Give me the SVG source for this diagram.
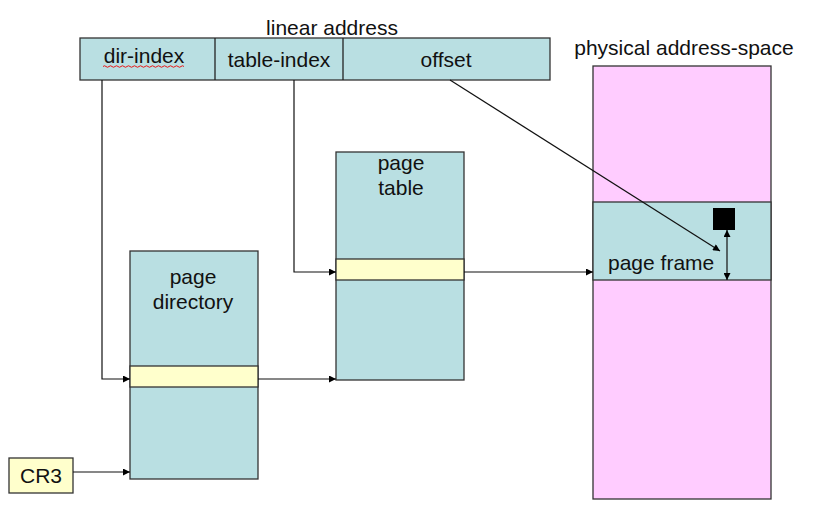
<svg xmlns="http://www.w3.org/2000/svg" width="818" height="510" viewBox="0 0 818 510">
<defs>
<style>
.t{font-family:"Liberation Sans",Arial,sans-serif;font-size:21px;fill:#111;}
.c{text-anchor:middle;}
.box{fill:#b9dfe2;stroke:#333;stroke-width:1.3;}
.band{fill:#ffffcc;stroke:#333;stroke-width:1.3;}
.phys{fill:#ffccff;stroke:#333;stroke-width:1.3;}
.ln{fill:none;stroke:#111;stroke-width:1.2;}
</style>
<marker id="ah" viewBox="0 0 10 10" refX="10" refY="5" markerWidth="9" markerHeight="7" markerUnits="userSpaceOnUse" orient="auto-start-reverse">
<path d="M0,0 L10,5 L0,10 z" fill="#000"/>
</marker>
</defs>
<rect width="818" height="510" fill="#fff"/>

<g id="linear-address">
<text class="t c" x="332" y="35">linear address</text>
<rect class="box" x="80" y="38" width="470" height="42"/>
<line x1="215" y1="38" x2="215" y2="80" stroke="#222" stroke-width="1.3"/>
<line x1="343" y1="38" x2="343" y2="80" stroke="#222" stroke-width="1.3"/>
<text class="t c" x="144" y="63">dir-index</text>
<path d="M103,66.5 q1.5,-1.5 3,0 t3,0 t3,0 t3,0 t3,0 t3,0 t3,0 t3,0 t3,0 t3,0 t3,0 t3,0 t3,0 t3,0 t3,0 t3,0 t3,0 t3,0 t3,0 t3,0 t3,0 t3,0 t3,0 t3,0 t3,0 t3,0 t3,0" fill="none" stroke="#e00" stroke-width="0.9"/>
<text class="t c" x="279" y="67">table-index</text>
<text class="t c" x="446" y="67">offset</text>
</g>

<g id="physical-address-space">
<text class="t c" x="684" y="55">physical address-space</text>
<rect class="phys" x="593" y="66" width="178" height="433"/>
<rect class="box" x="593" y="202" width="178" height="78"/>
<text class="t" x="608" y="270">page frame</text>
<rect x="713" y="208" width="22" height="22" fill="#000"/>
</g>

<g id="page-table">
<rect class="box" x="336" y="152" width="128" height="228"/>
<rect class="band" x="336" y="259" width="128" height="21"/>
<text class="t c" x="401" y="170">page</text>
<text class="t c" x="401" y="195">table</text>
</g>

<g id="page-directory">
<rect class="box" x="130" y="251" width="128" height="228"/>
<rect class="band" x="130" y="366" width="128" height="21"/>
<text class="t c" x="193" y="284">page</text>
<text class="t c" x="193" y="309">directory</text>
</g>

<g id="cr3">
<rect class="band" x="9" y="458" width="64" height="35"/>
<text class="t c" x="41" y="483">CR3</text>
</g>

<g id="connectors">
<line class="ln" x1="73" y1="472" x2="130" y2="472" marker-end="url(#ah)"/>
<polyline class="ln" points="102,80 102,379 130,379" marker-end="url(#ah)"/>
<line class="ln" x1="258" y1="379" x2="336" y2="379" marker-end="url(#ah)"/>
<polyline class="ln" points="294,80 294,272 336,272" marker-end="url(#ah)"/>
<line class="ln" x1="464" y1="272" x2="593" y2="272" marker-end="url(#ah)"/>
<line class="ln" x1="450" y1="80" x2="720" y2="251" marker-end="url(#ah)"/>
<line class="ln" x1="727" y1="230" x2="727" y2="280" marker-start="url(#ah)" marker-end="url(#ah)"/>
</g>
</svg>
